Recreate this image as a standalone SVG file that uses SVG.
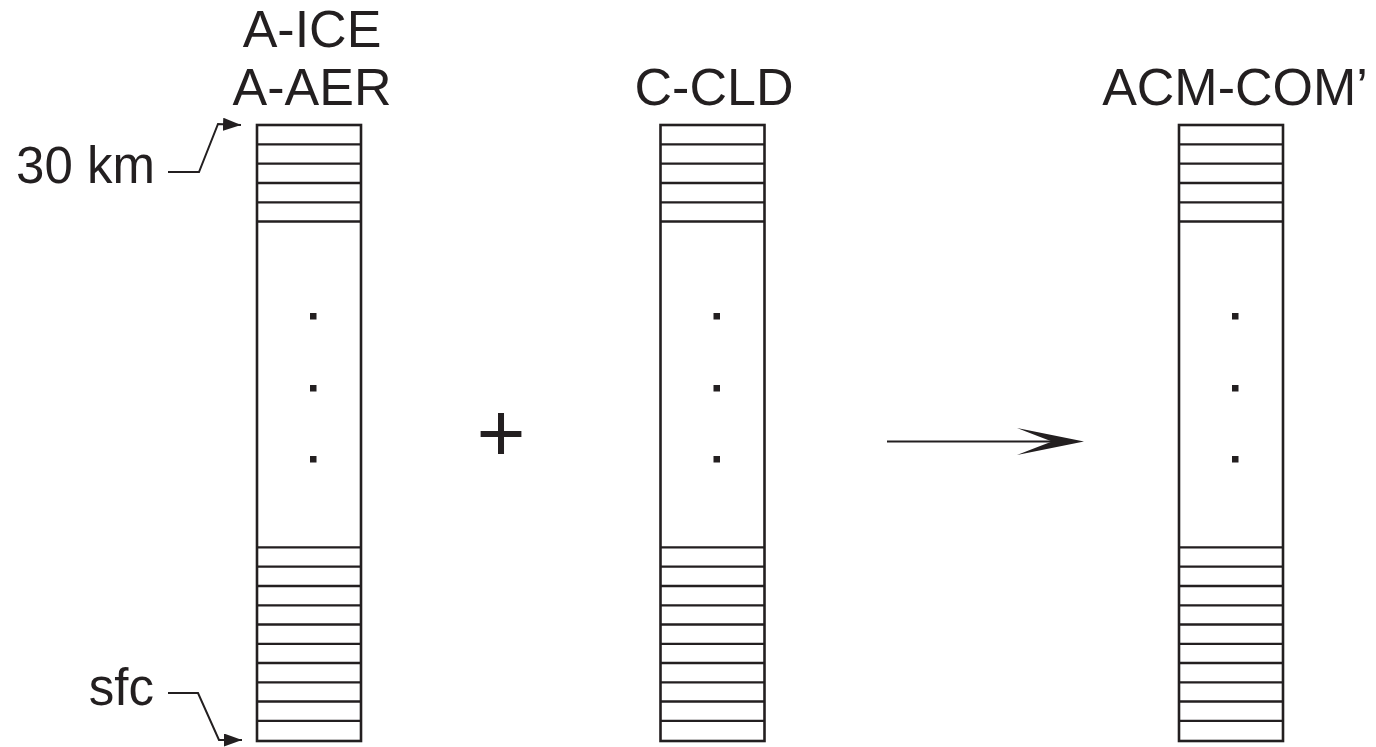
<svg xmlns="http://www.w3.org/2000/svg" width="1376" height="747" viewBox="0 0 1376 747">
  <style>
    .lbl { font-family: "Liberation Sans", Arial, sans-serif; font-size: 52px; fill: #231f20; text-anchor: middle; }
    .side { font-family: "Liberation Sans", Arial, sans-serif; font-size: 51px; fill: #231f20; text-anchor: end; }
    .box { fill: #fff; stroke: #231f20; stroke-width: 2.6; }
    .layer { stroke: #231f20; stroke-width: 2.3; fill: none; }
    .dot { fill: #231f20; }
    .conn { fill: none; stroke: #231f20; stroke-width: 2; }
  </style>
  <defs>
    <marker id="tri" viewBox="0 0 18 13" refX="18" refY="6.5" markerWidth="18" markerHeight="13" markerUnits="userSpaceOnUse" orient="auto">
      <path d="M0,0 L18,6.5 L0,13 z" fill="#231f20"/>
    </marker>
    <!-- one atmospheric column: 5 thin layers on top, 10 at the bottom -->
    <g id="column">
      <rect class="box" x="0" y="125" width="104" height="616"/>
      <path class="layer" d="M0,144.3H104M0,163.7H104M0,183H104M0,202.3H104M0,221.5H104"/>
      <path class="layer" d="M0,547.3H104M0,566.7H104M0,586H104M0,605.3H104M0,624.5H104M0,643.8H104M0,663H104M0,682.3H104M0,701.5H104M0,720.8H104"/>
      <rect class="dot" x="53" y="313" width="6.5" height="6.5"/>
      <rect class="dot" x="53" y="385" width="6.5" height="6.5"/>
      <rect class="dot" x="53" y="456" width="6.5" height="6.5"/>
    </g>
  </defs>

  <g id="col-a">
    <text class="lbl" x="312" y="47">A-ICE</text>
    <text class="lbl" x="312" y="105">A-AER</text>
    <use href="#column" x="257"/>
  </g>

  <g id="col-c">
    <text class="lbl" x="714" y="105">C-CLD</text>
    <use href="#column" x="660.5"/>
  </g>

  <g id="col-acm">
    <text class="lbl" x="1235" y="105">ACM-COM’</text>
    <use href="#column" x="1179"/>
  </g>

  <g id="label-top">
    <text class="side" x="155" y="183">30 km</text>
  </g>

  <g id="label-sfc">
    <text class="side" x="154" y="705">sfc</text>
  </g>

  <g id="plus">
    <text x="501" y="461" style="font-family: 'Liberation Sans', Arial, sans-serif; font-size: 84px; fill: #231f20; text-anchor: middle;">+</text>
  </g>

  <g id="connectors">
    <polyline class="conn" points="168,172 199,172 218,124 241,125" marker-end="url(#tri)"/>
    <polyline class="conn" points="168,693 198,693 219,740 242,740" marker-end="url(#tri)"/>
    <line x1="887" y1="441.5" x2="1060" y2="441.5" stroke="#231f20" stroke-width="2.2"/>
    <path d="M1084,441.5 L1017,428 Q1040,437 1052,441.5 Q1040,446 1017,455 Z" fill="#231f20"/>
  </g>
</svg>
